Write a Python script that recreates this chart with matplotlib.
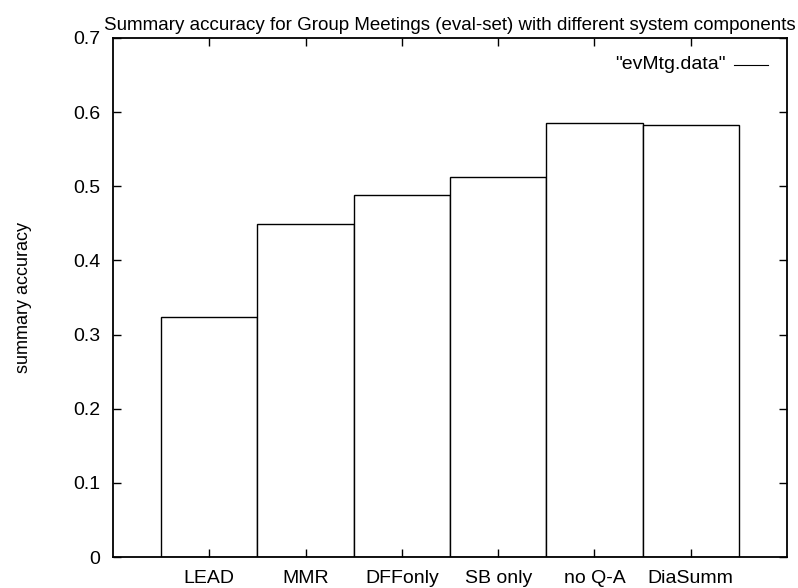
import numpy as np
import matplotlib
matplotlib.use('Agg')
import matplotlib.pyplot as plt

plt.rcParams['font.family'] = ['Liberation Sans', 'DejaVu Sans']

systems = ['LEAD', 'MMR', 'DFFonly', 'SB only', 'no Q-A', 'DiaSumm']
accuracy = [0.324, 0.449, 0.488, 0.513, 0.585, 0.583]

fig = plt.figure(figsize=(7.98, 5.88), dpi=100)
ax = fig.add_axes([0.1416, 0.0527, 0.8446, 0.8827])

x = np.arange(1, len(systems) + 1)
ax.bar(x, accuracy, width=1.0, facecolor='white', edgecolor='black',
       linewidth=1.0, label='"evMtg.data"')

ax.set_xlim(0, 7)
ax.set_ylim(0, 0.7)
ax.set_xticks(x)
ax.set_xticklabels(systems, fontsize=14)
ax.set_yticks(np.arange(0, 0.71, 0.1))
ax.set_yticklabels(['0'] + ['%.1f' % v for v in np.arange(0.1, 0.71, 0.1)], fontsize=14)
ax.tick_params(direction='in', length=6, width=1.0, top=True, right=True, pad=9)
for s in ax.spines.values():
    s.set_linewidth(1.3)

ax.set_ylabel('summary accuracy', fontsize=13)
ax.yaxis.set_label_coords(-0.120, 0.5)
ax.set_title('Summary accuracy for Group Meetings (eval-set) with different system components',
             fontsize=13.5, pad=6)

# gnuplot-style key: text then a short line sample
ax.plot([6.45, 6.8], [0.664, 0.664], color='black', linewidth=0.8)
ax.text(6.36, 0.664, '"evMtg.data"', ha='right', va='center', fontsize=14)

fig.savefig('out.png', dpi=100)
